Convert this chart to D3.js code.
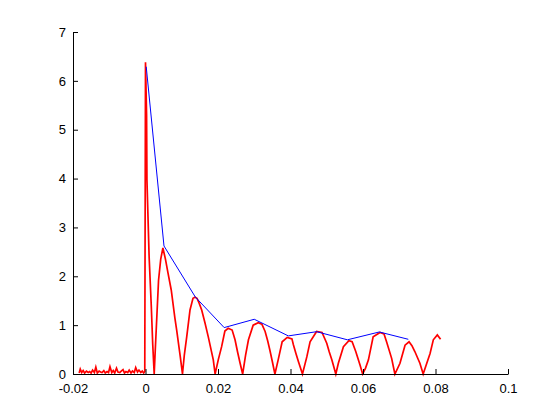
<!DOCTYPE html>
<html>
<head>
<meta charset="utf-8">
<script src="https://cdn.jsdelivr.net/npm/d3@7"></script>
<style>
  body { margin: 0; background: #fff; }
  text { font-family: "Liberation Sans", Arial, sans-serif; font-size: 13px; }
</style>
</head>
<body>
<div id="drawing_region"></div>
<script>
// tick labels
const xticks = [-0.02, 0, 0.02, 0.04, 0.06, 0.08, 0.1];
const xlabels = ["-0.02", "0", "0.02", "0.04", "0.06", "0.08", "0.1"];
const yticks = [0, 1, 2, 3, 4, 5, 6, 7];

// blue envelope (peak to peak)
const envX = [0.0002, 0.0051, 0.01375, 0.0217, 0.0300, 0.0394, 0.0472, 0.0557, 0.0645, 0.0725];
const envY = [6.29, 2.62, 1.575, 0.95, 1.12, 0.78, 0.866, 0.70, 0.86, 0.71];

// red signal: noise before zero
const noiseX = [-0.0183, -0.0180, -0.0176, -0.0172, -0.0168, -0.0163, -0.0158, -0.0154, -0.0150, -0.0146,
                -0.0141, -0.0137, -0.0133, -0.0128, -0.0124, -0.0120, -0.0115, -0.0111, -0.0106, -0.0102,
                -0.0098, -0.0093, -0.0089, -0.0085, -0.0080, -0.0076, -0.0071, -0.0067, -0.0062, -0.0058,
                -0.0054, -0.0049, -0.0045, -0.0040, -0.0036, -0.0031, -0.0027, -0.0022, -0.0018, -0.0013,
                -0.0009, -0.0005, -0.0002];
const noiseY = [0.02, 0.10, 0.03, 0.07, 0.02, 0.06, 0.03, 0.05, 0.02, 0.08,
                0.03, 0.14, 0.02, 0.06, 0.04, 0.03, 0.07, 0.02, 0.05, 0.03,
                0.15, 0.03, 0.07, 0.02, 0.12, 0.04, 0.03, 0.06, 0.09, 0.02,
                0.05, 0.03, 0.08, 0.02, 0.06, 0.03, 0.13, 0.04, 0.08, 0.03,
                0.06, 0.02, 0.05];

// red signal: rectified oscillation after zero
const sigX = [0, 0.0003, 0.0004, 0.0010, 0.0016, 0.0020, 0.0024,
              0.0027, 0.0036, 0.0042, 0.0048, 0.0055, 0.0062, 0.0071, 0.0081, 0.0086, 0.0096, 0.0102,
              0.0107, 0.01137, 0.01228, 0.0131, 0.01366, 0.0142, 0.0148, 0.0155, 0.0164, 0.01732, 0.0187, 0.0192,
              0.0201, 0.0210, 0.0219, 0.0228, 0.0239, 0.0247, 0.0254, 0.0261, 0.0268,
              0.0276, 0.0284, 0.0297, 0.0311, 0.0321, 0.0330, 0.0337, 0.0343, 0.0350, 0.0357,
              0.0366, 0.0377, 0.0391, 0.0404, 0.0408, 0.0415, 0.0422, 0.0433,
              0.0445, 0.0454, 0.0472, 0.0487, 0.0500, 0.0507, 0.0514, 0.0525,
              0.0532, 0.0546, 0.0561, 0.0570, 0.0580, 0.0592, 0.0599,
              0.0607, 0.0615, 0.0628, 0.0647, 0.0658, 0.0665, 0.0679, 0.0688,
              0.0702, 0.0716, 0.0727, 0.0735, 0.0743, 0.0757, 0.0766,
              0.0775, 0.0785, 0.0794, 0.0805, 0.0814];
const sigY = [6.38, 5.3, 3.97, 2.4, 1.38, 0.6, 0,
              0.5, 1.92, 2.35, 2.58, 2.35, 2.07, 1.72, 1.15, 0.9, 0.35, 0,
              0.38, 0.76, 1.31, 1.55, 1.57, 1.55, 1.45, 1.31, 1.05, 0.76, 0.29, 0,
              0.3, 0.56, 0.88, 0.935, 0.9, 0.70, 0.45, 0.22, 0,
              0.38, 0.70, 1.0, 1.05, 1.02, 0.87, 0.68, 0.49, 0.25, 0,
              0.29, 0.66, 0.75, 0.72, 0.6, 0.42, 0.25, 0,
              0.35, 0.66, 0.87, 0.85, 0.63, 0.45, 0.29, 0,
              0.22, 0.56, 0.68, 0.66, 0.46, 0.18, 0,
              0.12, 0.29, 0.76, 0.85, 0.82, 0.66, 0.32, 0,
              0.22, 0.59, 0.66, 0.58, 0.46, 0.22, 0,
              0.2, 0.42, 0.70, 0.80, 0.71];

var config = {
    parent: '#drawing_region',
    width: 560,
    height: 420,
    margin: {top:32, right:52, bottom:46, left:73} };

class LineChart {

    constructor( config ) {
        this.config = config;
        this.init();
    }

    init() {
        let self = this;

        self.svg = d3.select( self.config.parent )
            .append('svg')
            .attr('width', self.config.width)
            .attr('height', self.config.height);

        self.chart = self.svg.append('g')
            .attr('transform', `translate(${self.config.margin.left}, ${self.config.margin.top})`);

        self.inner_width = self.config.width - self.config.margin.left - self.config.margin.right;
        self.inner_height = self.config.height - self.config.margin.top - self.config.margin.bottom;

        self.xscale = d3.scaleLinear()
            .domain( [-0.02, 0.1] )
            .range( [0, self.inner_width] );

        self.yscale = d3.scaleLinear()
            .domain( [0, 7] )
            .range( [self.inner_height, 0] );

        // ticks point inward, like matlab
        self.xaxis = d3.axisBottom( self.xscale )
            .tickValues( xticks )
            .tickSizeInner( -5 )
            .tickSizeOuter( 0 )
            .tickPadding( 10 )
            .tickFormat( (d, i) => xlabels[i] );

        self.yaxis = d3.axisLeft( self.yscale )
            .tickValues( yticks )
            .tickSizeInner( -5 )
            .tickSizeOuter( 0 )
            .tickPadding( 7 )
            .tickFormat( d => String(d) );
    }

    render() {
        let self = this;

        const line = d3.line()
            .x( d => self.xscale(d[0]) )
            .y( d => self.yscale(d[1]) );

        const red = noiseX.map((x, i) => [x, noiseY[i]])
            .concat( sigX.map((x, i) => [x, sigY[i]]) );
        const blue = envX.map((x, i) => [x, envY[i]]);

        self.chart.append('path')
            .datum( red )
            .attr('d', line)
            .attr('fill', 'none')
            .attr('stroke', '#ff0000')
            .attr('stroke-width', 1.7);

        self.chart.append('path')
            .datum( blue )
            .attr('d', line)
            .attr('fill', 'none')
            .attr('stroke', '#0000ff')
            .attr('stroke-width', 1);

        self.chart.append('g')
            .attr('transform', `translate(0, ${self.inner_height})`)
            .call( self.xaxis );

        self.chart.append('g')
            .call( self.yaxis );

        self.chart.selectAll('.domain, .tick line')
            .attr('stroke', '#000');
        self.chart.selectAll('.tick text')
            .attr('fill', '#000')
            .style('font-size', '13px')
            .style('font-family', '"Liberation Sans", Arial, sans-serif');
    }
}

const chart = new LineChart( config );
chart.render();
</script>
</body>
</html>
